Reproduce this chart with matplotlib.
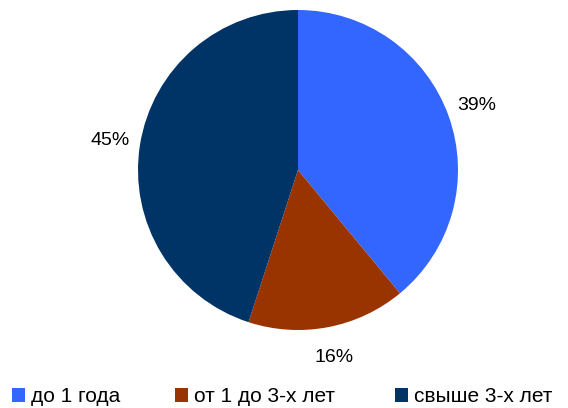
import matplotlib
matplotlib.use("Agg")
import matplotlib.pyplot as plt

categories = ["до 1 года", "от 1 до 3-х лет", "свыше 3-х лет"]
values = [39, 16, 45]
colors = ["#3366FF", "#993300", "#003366"]

plt.rcParams['font.family'] = ['Liberation Sans', 'DejaVu Sans']

fig = plt.figure(figsize=(5.68, 4.08), dpi=100)
ax = fig.add_axes([0, 0, 1, 1])

wedges, texts, autotexts = ax.pie(
    values, colors=colors, startangle=90, counterclock=False,
    center=(298, 238), radius=160, autopct='%d%%', pctdistance=1.19,
    textprops=dict(fontsize=14, color='black'), frame=True)
ax.set_xlim(0, 568)
ax.set_ylim(0, 408)
ax.set_aspect('equal')
ax.axis('off')

# legend entries placed individually (left x positions in pixels)
legend_x = [12, 175, 395]
for w, lab, x in zip(wedges, categories, legend_x):
    lg = fig.legend([w], [lab], loc='center left', bbox_to_anchor=(x / 568, 11 / 408),
                    frameon=False, fontsize=15, handlelength=0.62, handleheight=0.62,
                    handletextpad=0.3, borderaxespad=0, borderpad=0)

fig.savefig("out.png", dpi=100)
